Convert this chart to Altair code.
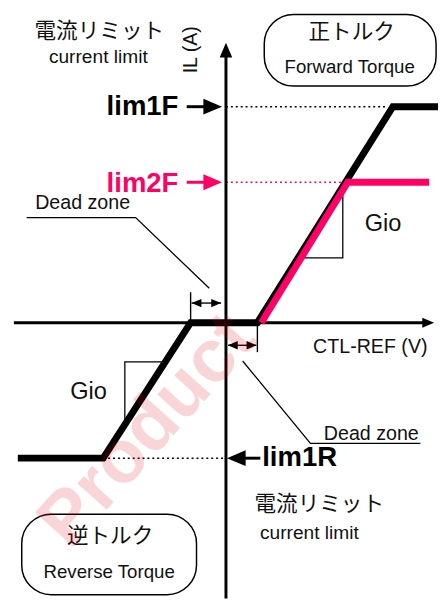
import altair as alt
import pandas as pd

FONT = "Liberation Sans, Arial, Noto Sans CJK JP, sans-serif"
BLACK = "#000000"
PINK = "#ff0066"

# ---------------- data (diagram units: x = CTL-REF, y = IL) ----------------
# current-limit 1 characteristic (black)
curve1_x = [-21.2, -12.5, -3.6, 3.2, 17.0, 21.6]
curve1_y = [-13.8, -13.8, 0.0, 0.0, 22.0, 22.0]
# current-limit 2 characteristic (pink)
curve2_x = [3.6, 12.4, 20.7]
curve2_y = [0.0, 14.3, 14.3]

# limit levels and their dotted guides
lim_names = ["lim1F", "lim2F", "lim1R"]
lim_level = [22.0, 14.3, -13.8]
lim_guide_from = [0.0, 0.0, -12.5]
lim_guide_to = [16.2, 12.3, 0.0]
lim_color = [BLACK, PINK, BLACK]
lim_shaft_from = [-4.0, -4.0, 3.5]
lim_shaft_to = [-1.5, -1.5, 1.5]
lim_tip = [-0.4, -0.4, 0.1]
lim_dir = [0, 0, 180]
lim_label_x = [-8.5, -8.5, 7.5]
lim_label_y = [22.0, 14.1, -13.8]

# axes
xaxis_x = [-21.6, 20.4]
yaxis_y = [-28.1, 27.1]
xaxis_tip = 21.2
yaxis_tip = 28.5

# dead zone markers
dead_tick_x = [-3.6, 3.2]
dead_tick_y2 = [3.1, -3.0]
dead_arrow_y = [2.0, -2.3]
dead_arrow_from = [-3.5, 0.2]
dead_arrow_to = [-0.5, 3.1]

# polylines: leaders and gain triangles
poly_names = ["lead_up", "lead_dn", "gio_up", "gio_dn"]
poly_x = [[-20.3, -9.2, -1.7], [1.7, 8.6, 19.8], [7.8, 11.9, 11.9], [-6.2, -10.3, -10.3]]
poly_y = [[10.7, 10.7, 3.5], [-3.9, -12.3, -12.3], [6.6, 6.6, 13.6], [-4.0, -4.0, -10.2]]

# rounded boxes
box_x = [3.9, -20.8]
box_x2 = [21.4, -3.0]
box_y = [31.4, -19.5]
box_y2 = [24.1, -27.7]

# plain labels
txt = ["電流リミット", "current limit", "IL (A)", "正トルク", "Forward Torque",
       "Dead zone", "Dead zone", "Gio", "Gio", "CTL-REF (V)",
       "電流リミット", "current limit", "逆トルク", "Reverse Torque"]
txt_x = [-12.9, -13.0, -3.5, 12.8, 12.6, -14.6, 14.8, 16.0, -14.0, 14.7,
         9.5, 8.5, -11.8, -11.9]
txt_y = [29.7, 27.0, 27.8, 29.6, 26.0, 12.2, -11.3, 10.0, -7.1, -2.5,
         -18.5, -21.4, -21.7, -25.4]
txt_size = [22, 19.5, 20, 22, 19, 20, 20, 24, 24, 20, 22, 19.5, 22, 19]
txt_angle = [0, 0, 270, 0, 0, 0, 0, 0, 0, 0, 0, 0, 0, 0]

# ---------------- scales ----------------
xs = alt.Scale(domain=[-22.2, 21.8], nice=False, zero=False)
ys = alt.Scale(domain=[-28.1, 31.5], nice=False, zero=False)
X = lambda f="x": alt.X(f"{f}:Q", scale=xs, axis=None)
Y = lambda f="y": alt.Y(f"{f}:Q", scale=ys, axis=None)

# ---------------- frames ----------------
axes_df = pd.DataFrame({"x": [xaxis_x[0], 0.0], "x2": [xaxis_x[1], 0.0],
                        "y": [0.0, yaxis_y[0]], "y2": [0.0, yaxis_y[1]]})

guide_df = pd.DataFrame({"x": lim_guide_from, "x2": lim_guide_to,
                         "y": lim_level, "y2": lim_level, "col": lim_color})

shaft_df = pd.DataFrame({"x": lim_shaft_from, "x2": lim_shaft_to,
                         "y": lim_level, "y2": lim_level, "col": lim_color})

thin_df = pd.DataFrame({
    "x": dead_tick_x + dead_arrow_from,
    "x2": dead_tick_x + dead_arrow_to,
    "y": [0.0, 0.0] + dead_arrow_y,
    "y2": dead_tick_y2 + dead_arrow_y,
})

poly_rows = []
for n, px, py in zip(poly_names, poly_x, poly_y):
    for i, (a, b) in enumerate(zip(px, py)):
        poly_rows.append({"grp": n, "o": i, "x": a, "y": b})
poly_df = pd.DataFrame(poly_rows)

c1 = pd.DataFrame({"x": curve1_x, "y": curve1_y, "o": range(len(curve1_x))})
c2 = pd.DataFrame({"x": curve2_x, "y": curve2_y, "o": range(len(curve2_x))})

head_rows = []
for t, lv, d, c in zip(lim_tip, lim_level, lim_dir, lim_color):
    head_rows.append({"x": t, "y": lv, "ang": d, "sz": 361, "col": c})
head_rows.append({"x": 0.0, "y": yaxis_tip, "ang": 270, "sz": 225, "col": BLACK})
head_rows.append({"x": xaxis_tip, "y": 0.0, "ang": 0, "sz": 144, "col": BLACK})
for yv, a, b in zip(dead_arrow_y, dead_arrow_from, dead_arrow_to):
    head_rows.append({"x": a, "y": yv, "ang": 180, "sz": 100, "col": BLACK})
    head_rows.append({"x": b, "y": yv, "ang": 0, "sz": 100, "col": BLACK})
head_df = pd.DataFrame(head_rows)

box_df = pd.DataFrame({"x": box_x, "x2": box_x2, "y": box_y, "y2": box_y2})

txt_df = pd.DataFrame({"t": txt, "x": txt_x, "y": txt_y, "s": txt_size, "a": txt_angle})
lim_df = pd.DataFrame({"t": lim_names, "x": lim_label_x, "y": lim_label_y, "col": lim_color})
wm_df = pd.DataFrame({"t": ["Product"], "x": [-8.0], "y": [-11.0]})

# ---------------- layers ----------------
boxes = alt.Chart(box_df).mark_rect(cornerRadius=30, fill="white", stroke=BLACK,
                                    strokeWidth=1.5).encode(
    x=X(), x2="x2:Q", y=Y(), y2="y2:Q")

axes = alt.Chart(axes_df).mark_rule(strokeWidth=3, color=BLACK).encode(
    x=X(), x2="x2:Q", y=Y(), y2="y2:Q")

guides = alt.Chart(guide_df).mark_rule(strokeWidth=1.6, strokeDash=[2, 3]).encode(
    x=X(), x2="x2:Q", y=Y(), y2="y2:Q", color=alt.Color("col:N", scale=None))

shafts = alt.Chart(shaft_df).mark_rule(strokeWidth=3).encode(
    x=X(), x2="x2:Q", y=Y(), y2="y2:Q", color=alt.Color("col:N", scale=None))

thin = alt.Chart(thin_df).mark_rule(strokeWidth=1.4, color=BLACK).encode(
    x=X(), x2="x2:Q", y=Y(), y2="y2:Q")

polys = alt.Chart(poly_df).mark_line(strokeWidth=1.3, color=BLACK, strokeJoin="miter").encode(
    x=X(), y=Y(), detail="grp:N", order="o:Q")

curve1 = alt.Chart(c1).mark_line(strokeWidth=7, color=BLACK, strokeJoin="miter",
                                 strokeCap="butt").encode(x=X(), y=Y(), order="o:Q")
curve2 = alt.Chart(c2).mark_line(strokeWidth=7, color=PINK, strokeJoin="miter",
                                 strokeCap="butt").encode(x=X(), y=Y(), order="o:Q")

heads = alt.Chart(head_df).mark_point(shape="M0,0L-2,-0.85L-2,0.85Z", filled=True,
                                      opacity=1, strokeWidth=0).encode(
    x=X(), y=Y(),
    angle=alt.Angle("ang:Q", scale=None),
    size=alt.Size("sz:Q", scale=None),
    color=alt.Color("col:N", scale=None))

labels = alt.Chart(txt_df).mark_text(font=FONT, align="center", baseline="middle",
                                     color="#111111").encode(
    x=X(), y=Y(), text="t:N",
    size=alt.Size("s:Q", scale=None),
    angle=alt.Angle("a:Q", scale=None))

lims = alt.Chart(lim_df).mark_text(font=FONT, fontWeight="bold", fontSize=28,
                                   align="center", baseline="middle").encode(
    x=X(), y=Y(), text="t:N", color=alt.Color("col:N", scale=None))

wm = alt.Chart(wm_df).mark_text(font=FONT, fontWeight="bold", fontSize=76, angle=312,
                                align="center", baseline="middle",
                                color="#e60012", opacity=0.16).encode(
    x=X(), y=Y(), text="t:N")

chart = alt.layer(boxes, guides, axes, thin, polys, shafts, curve1, curve2, heads,
                  labels, lims, wm).properties(
    width=440, height=596, padding=0,
    autosize=alt.AutoSizeParams(type="none"),
).configure_view(stroke=None)

chart.save("out.html", embed_options={"renderer": "svg", "actions": False})
